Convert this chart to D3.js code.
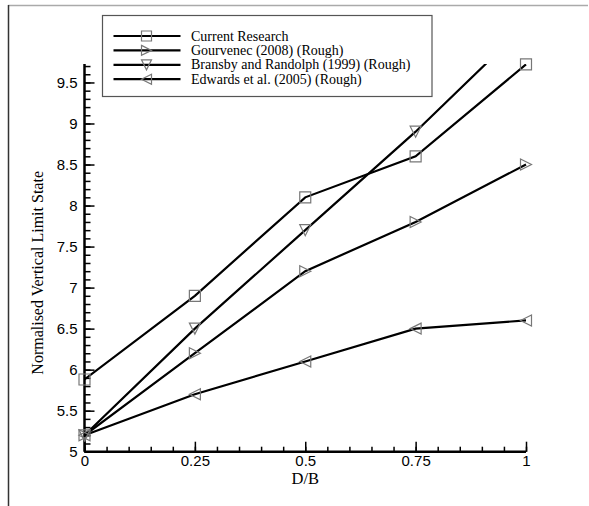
<!DOCTYPE html>
<html>
<head>
<meta charset="utf-8">
<script src="https://cdn.jsdelivr.net/npm/d3@7"></script>
<style>
  body { margin: 0; background: #fff; }
  .axis path, .axis line { stroke: #000; }
  .axis text { font-family: "Liberation Sans", Arial, sans-serif; font-size: 15px; fill: #000; }
</style>
</head>
<body>
<div id="chart"></div>
<script>
// data
var xValues = [0, 0.25, 0.5, 0.75, 1];
var currentResearch = [5.88, 6.9, 8.1, 8.6, 9.72];
var gourvenec = [5.2, 6.2, 7.2, 7.8, 8.5];
var bransby = [5.2, 6.5, 7.7, 8.9, 10.2];
var edwards = [5.2, 5.7, 6.1, 6.5, 6.6];

var seriesNames = ["Current Research", "Gourvenec (2008) (Rough)",
    "Bransby and Randolph (1999) (Rough)", "Edwards et al. (2005) (Rough)"];
var seriesSymbols = ["square", "right", "down", "left"];

var xTicks = [0, 0.25, 0.5, 0.75, 1];
var xTickLabels = ["0", "0.25", "0.5", "0.75", "1"];
var yTicks = [5, 5.5, 6, 6.5, 7, 7.5, 8, 8.5, 9, 9.5];

var series = [currentResearch, gourvenec, bransby, edwards].map(function(vals, i){
    return {
        name: seriesNames[i],
        symbol: seriesSymbols[i],
        values: vals.map(function(v, j){ return { x: xValues[j], y: v }; })
    };
});

var width = 589, height = 506;
var margin = { top: 64, right: 63, bottom: 54.3, left: 84.5 };
var w = width - margin.left - margin.right,
    h = height - margin.top - margin.bottom;

var svg = d3.select("#chart").append("svg")
    .attr("width", width)
    .attr("height", height);

// page frame
svg.append("line").attr("x1", 8).attr("x2", 588).attr("y1", 5.5).attr("y2", 5.5)
    .attr("stroke", "#aaa").attr("stroke-width", 1.5);
svg.append("line").attr("x1", 8.5).attr("x2", 8.5).attr("y1", 5).attr("y2", height)
    .attr("stroke", "#333").attr("stroke-width", 1.5);

var g = svg.append("g")
    .attr("transform", "translate(" + margin.left + "," + margin.top + ")");

var x = d3.scaleLinear().domain([0, 1]).range([0, w]);
var y = d3.scaleLinear().domain([5, 9.725]).range([h, 0]);

// minor ticks
g.append("g").attr("class", "axis")
    .attr("transform", "translate(0," + h + ")")
    .call(d3.axisBottom(x).tickValues(d3.range(0, 1.001, 0.05)).tickSize(-5).tickFormat(""))
    .call(function(s){ s.select(".domain").remove(); });
g.append("g").attr("class", "axis")
    .call(d3.axisLeft(y).tickValues(d3.range(5, 9.71, 0.1)).tickSize(-6).tickFormat(""))
    .call(function(s){ s.select(".domain").remove(); });

// major ticks
var xAxis = g.append("g").attr("class", "axis")
    .attr("transform", "translate(0," + h + ")")
    .call(d3.axisBottom(x).tickValues(xTicks).tickSize(-10).tickPadding(4)
        .tickFormat(function(d, i){ return xTickLabels[i]; }));
var yAxis = g.append("g").attr("class", "axis")
    .call(d3.axisLeft(y).tickValues(yTicks).tickSize(-10).tickPadding(7)
        .tickFormat(function(d){ return String(d); }));

g.selectAll(".axis line").attr("stroke-width", 1.5);
[xAxis, yAxis].forEach(function(a){
    a.select(".domain").attr("stroke-width", 2.5).attr("d",
        a === xAxis ? "M0,0H" + w : "M0," + h + "V0");
});

// clip
svg.append("defs").append("clipPath").attr("id", "plot-clip")
    .append("rect").attr("x", 0).attr("y", 0).attr("width", w + 8).attr("height", h);

var line = d3.line().x(function(d){ return x(d.x); }).y(function(d){ return y(d.y); });

var symbolPath = function(type, s){
    var r = s / 2;
    if (type === "square") return "M" + (-r) + "," + (-r) + "h" + s + "v" + s + "h" + (-s) + "Z";
    if (type === "right") return "M" + (-r) + "," + (-r) + "L" + r + ",0L" + (-r) + "," + r + "Z";
    if (type === "left") return "M" + r + "," + (-r) + "L" + (-r) + ",0L" + r + "," + r + "Z";
    return "M" + (-r) + "," + (-r) + "L" + r + "," + (-r) + "L0," + r + "Z";
};

var plot = g.append("g").attr("clip-path", "url(#plot-clip)");

plot.selectAll(".series-line").data(series).enter().append("path")
    .attr("class", "series-line")
    .attr("d", function(d){ return line(d.values); })
    .attr("fill", "none").attr("stroke", "#000").attr("stroke-width", 2.2);

var markerGroups = g.selectAll(".markers").data(series).enter().append("g")
    .attr("class", "markers");
markerGroups.selectAll("path")
    .data(function(d){
        return d.values.filter(function(v){ return v.y <= 9.73; })
            .map(function(v){ return { x: v.x, y: v.y, symbol: d.symbol }; });
    })
    .enter().append("path")
    .attr("transform", function(d){ return "translate(" + x(d.x) + "," + y(d.y) + ")"; })
    .attr("d", function(d){ return symbolPath(d.symbol, 11); })
    .attr("fill", "none").attr("stroke", "#777").attr("stroke-width", 1.2);

// axis titles
g.append("text")
    .attr("x", w / 2).attr("y", h + 32)
    .attr("text-anchor", "middle")
    .style("font-family", "'Liberation Serif', 'Times New Roman', serif")
    .style("font-size", "16.5px")
    .text("D/B");

g.append("text")
    .attr("transform", "translate(" + (-42) + "," + (h / 2 + 15) + ") rotate(-90)")
    .attr("text-anchor", "middle")
    .style("font-family", "'Liberation Serif', 'Times New Roman', serif")
    .style("font-size", "16px")
    .text("Normalised Vertical Limit State");

// legend
var legend = svg.append("g").attr("transform", "translate(102.5,15.5)");
legend.append("rect").attr("width", 329.5).attr("height", 81)
    .attr("fill", "#fff").attr("stroke", "#555").attr("stroke-width", 1.2);

var rows = legend.selectAll(".legend-row").data(series).enter().append("g")
    .attr("class", "legend-row")
    .attr("transform", function(d, i){ return "translate(0," + (20.5 + i * 14.4) + ")"; });
rows.append("line").attr("x1", 11).attr("x2", 78).attr("y1", 0).attr("y2", 0)
    .attr("stroke", "#000").attr("stroke-width", 2.2);
rows.append("path")
    .attr("transform", "translate(44,0)")
    .attr("d", function(d){ return symbolPath(d.symbol, 10); })
    .attr("fill", "none").attr("stroke", "#777").attr("stroke-width", 1.2);
rows.append("text")
    .attr("x", 88.5).attr("y", 4.5)
    .style("font-family", "'Liberation Serif', 'Times New Roman', serif")
    .style("font-size", "14px")
    .text(function(d){ return d.name; });
</script>
</body>
</html>
